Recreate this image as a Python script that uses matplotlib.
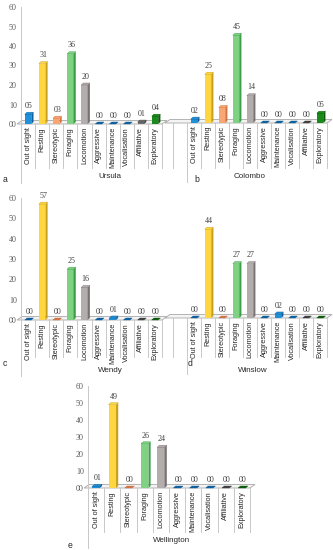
import matplotlib
matplotlib.use("Agg")
import matplotlib.pyplot as plt
from matplotlib.patches import Polygon
from matplotlib.lines import Line2D
from matplotlib.transforms import blended_transform_factory

W, H = 333, 550

categories = ["Out of sight", "Resting", "Stereotypic", "Foraging", "Locomotion",
              "Aggressive", "Maintenance", "Vocalisation", "Affiliative", "Exploratory"]
ursula = [5, 31, 3, 36, 20, 0, 0, 0, 1, 4]
colombo = [2, 25, 8, 45, 14, 0, 0, 0, 0, 5]
wendy = [0, 57, 0, 25, 16, 0, 1, 0, 0, 0]
winslow = [0, 44, 0, 27, 27, 0, 2, 0, 0, 0]
wellington = [1, 49, 0, 26, 24, 0, 0, 0, 0, 0]
yticks = [0, 10, 20, 30, 40, 50, 60]

front_colors = ["#2090D8", "#FFD640", "#F8A674", "#7ED282", "#B3ADAD",
                "#2090D8", "#2090D8", "#2090D8", "#707070", "#1A8A1A"]
side_colors = ["#10609E", "#C8A01E", "#D07445", "#3F9E4B", "#7A7373",
               "#10609E", "#10609E", "#10609E", "#404040", "#0C5A0C"]

SERIF = "Liberation Serif"
SANS = "Liberation Sans"

panels = [
    dict(vals=ursula, name="Ursula", letter="a", l=21, r=162, y0=124, y60=7,
         sep=168, axend=183, npos=(110, 177), lpos=(5, 180), yaxis=True, extra=None),
    dict(vals=colombo, name="Colombo", letter="b", l=187, r=327, y0=123, y60=6,
         sep=168, axend=182, npos=(250, 177), lpos=(197, 180), yaxis=False, extra=173),
    dict(vals=wendy, name="Wendy", letter="c", l=21, r=162, y0=320, y60=198,
         sep=357, axend=376, npos=(110, 371), lpos=(5, 364), yaxis=True, extra=None),
    dict(vals=winslow, name="Winslow", letter="d", l=187, r=327, y0=318, y60=197,
         sep=357, axend=374, npos=(253, 370), lpos=(190, 363), yaxis=False, extra=173),
    dict(vals=wellington, name="Wellington", letter="e", l=88, r=250, y0=488, y60=386,
         sep=532, axend=548, npos=(172, 541), lpos=(70, 545), yaxis=True, extra=None),
]

fig = plt.figure(figsize=(W / 100, H / 100), dpi=100)
fig.patch.set_facecolor("white")


def fx(p):
    return p / W


def fy(p):
    return 1 - p / H


grid_c = "#C8C8C8"

for p in panels:
    l, r, y0, y60 = p["l"], p["r"], p["y0"], p["y60"]
    ax = fig.add_axes([fx(l), fy(y0), (r - l) / W, (y0 - y60) / H])
    ax.set_xlim(-0.5, 9.5)
    ax.set_ylim(0, 60)
    ax.patch.set_alpha(0)
    cellpx = (r - l) / 10.0
    unitpx = (y0 - y60) / 60.0
    bw = 0.46
    dx = 2.2 / cellpx
    dy = 2.0 / unitpx
    xs = list(range(len(categories)))
    vals = p["vals"]

    fl_left = -0.5 - (4 / cellpx if p["yaxis"] else (l - 165) / cellpx)
    fdx, fdy = 5 / cellpx, 3.5 / unitpx
    floor = Polygon([(fl_left, 0), (9.5, 0), (9.5 + fdx, fdy), (fl_left + fdx, fdy)],
                    closed=True, facecolor="#F4F4F4", edgecolor="#A8A8A8",
                    linewidth=0.6, clip_on=False, zorder=1)
    ax.add_patch(floor)

    ax.bar(xs, vals, width=bw, color=front_colors, zorder=3, linewidth=0)
    for x, v, sc, fc in zip(xs, vals, side_colors, front_colors):
        side = Polygon([(x + bw / 2, 0), (x + bw / 2 + dx, dy), (x + bw / 2 + dx, v + dy),
                        (x + bw / 2, v)], closed=True, facecolor=sc, linewidth=0,
                       zorder=3, clip_on=False)
        top = Polygon([(x - bw / 2, v), (x + bw / 2, v), (x + bw / 2 + dx, v + dy),
                       (x - bw / 2 + dx, v + dy)], closed=True, facecolor=sc if v == 0 else fc,
                      edgecolor=sc, linewidth=0.3, zorder=4, clip_on=False)
        ax.add_patch(side)
        ax.add_patch(top)
        ax.text(x + dx / 2, v + dy + 1.2, f"{v:02d}", ha="center", va="bottom",
                fontsize=5.8, family=SERIF, color="#404040", zorder=5)

    for s in ["top", "right", "bottom"]:
        ax.spines[s].set_visible(False)
    ax.set_xticks([])
    if p["yaxis"]:
        ax.spines["left"].set_color(grid_c)
        ax.spines["left"].set_linewidth(0.7)
        ax.set_yticks(yticks)
        ax.set_yticklabels([f"{t:02d}" for t in yticks], family=SERIF, fontsize=5.8,
                           color="#595959")
        ax.tick_params(axis="y", length=0, pad=3)
    else:
        ax.spines["left"].set_visible(False)
        ax.set_yticks([])

    trans = blended_transform_factory(ax.transData, fig.transFigure)
    for i in range(11):
        bx = i - 0.5
        end = p["axend"] if i == 0 else p["sep"]
        ax.add_line(Line2D([bx, bx], [fy(y0), fy(end)], transform=trans,
                           color=grid_c, linewidth=0.7, clip_on=False))
    if p["extra"] is not None:
        fig.add_artist(Line2D([fx(p["extra"]), fx(p["extra"])], [fy(y0), fy(p["sep"])],
                              transform=fig.transFigure, color=grid_c, linewidth=0.7))
    for x, c in zip(xs, categories):
        ax.text(x, fy(y0 + 3), c, transform=trans, rotation=90, ha="center", va="top",
                fontsize=5.2, family=SANS, color="#262626")

    fig.text(fx(p["npos"][0]), fy(p["npos"][1]), p["name"], ha="center", va="center",
             fontsize=5.8, family=SANS, color="#262626")
    fig.text(fx(p["lpos"][0]), fy(p["lpos"][1]), p["letter"], ha="center", va="center",
             fontsize=6.2, family=SANS, color="#262626")

fig.savefig("out.png", dpi=100, facecolor="white")
